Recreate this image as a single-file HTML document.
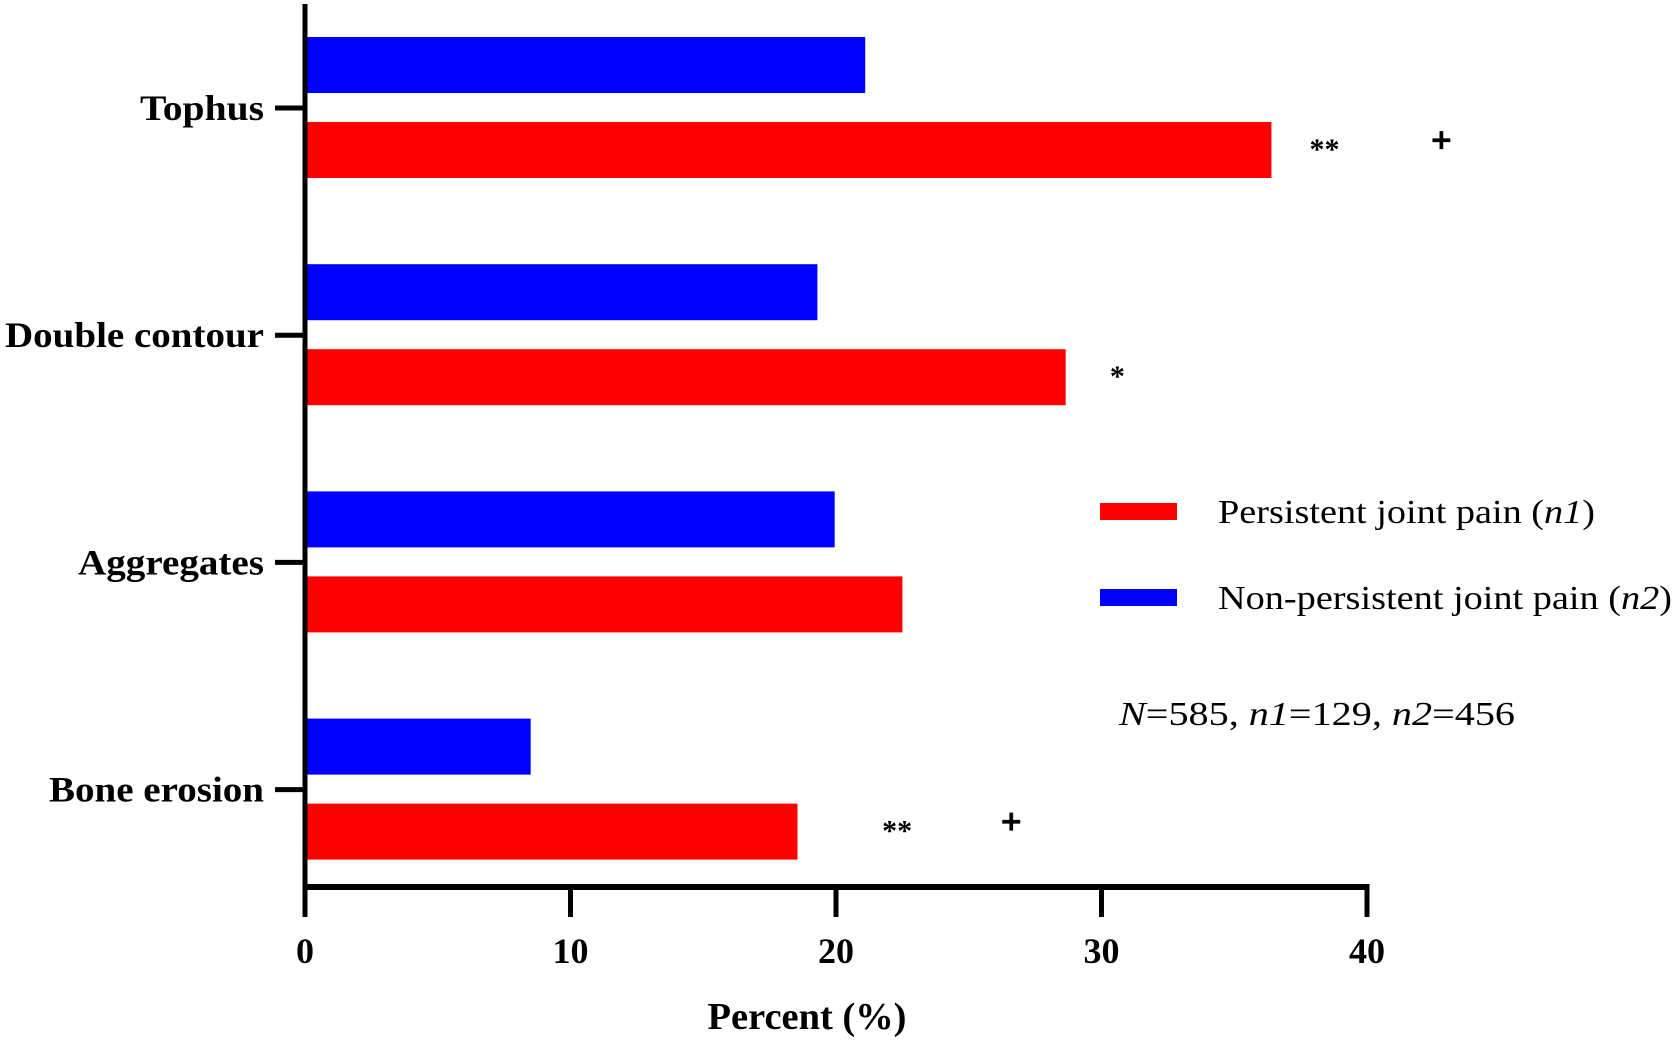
<!DOCTYPE html>
<html><head><meta charset="utf-8"><style>
html,body{margin:0;padding:0;background:#fff;}
svg{display:block;font-family:"Liberation Serif",serif;}
</style></head><body>
<svg id="chart" width="1675" height="1041" viewBox="0 0 1675 1041"></svg>
<script>
const categories = ["Tophus", "Double contour", "Aggregates", "Bone erosion"];
const persistentValues = [36.4, 28.65, 22.5, 18.55];
const nonPersistentValues = [21.1, 19.3, 19.95, 8.5];
const xTicks = [0, 10, 20, 30, 40];
const catLabelWidths = [124, 259, 186, 215];
const annotations = [
  {cat: 0, text: "**", value: 38.4},
  {cat: 0, text: "+", value: 42.8},
  {cat: 1, text: "*", value: 30.6},
  {cat: 3, text: "**", value: 22.3},
  {cat: 3, text: "+", value: 26.6}
];

const NS = "http://www.w3.org/2000/svg";
const svg = document.getElementById("chart");
const x0 = 305, x1 = 1367, xMax = 40;
const xs = v => x0 + (v / xMax) * (x1 - x0);
const catY = i => 108 + i * 227.2;
function mk(tag, attrs, parent) {
  const e = document.createElementNS(NS, tag);
  for (const k in attrs) e.setAttribute(k, attrs[k]);
  (parent || svg).appendChild(e);
  return e;
}

categories.forEach((c, i) => {
  const cy = catY(i);
  const b = mk("rect", {x: x0, y: cy - 71, width: xs(nonPersistentValues[i]) - x0, height: 56, fill: "#0000ff"});
  
  
  const r = mk("rect", {x: x0, y: cy + 14, width: xs(persistentValues[i]) - x0, height: 56, fill: "#ff0000"});
  
  
  const t = mk("line", {x1: 275, x2: 305, y1: cy, y2: cy, stroke: "#000", "stroke-width": 5});
  
  
  const l = mk("text", {x: 264, y: cy + 12, "text-anchor": "end", "font-size": 36, "font-weight": "bold", textLength: catLabelWidths[i], lengthAdjust: "spacingAndGlyphs"});
  l.textContent = c;
  
  
});

const ya = mk("line", {x1: 305, x2: 305, y1: 4, y2: 890, stroke: "#000", "stroke-width": 5});


const xa = mk("line", {x1: 303, x2: 1369.5, y1: 887, y2: 887, stroke: "#000", "stroke-width": 6});


xTicks.forEach(v => {
  const t = mk("line", {x1: xs(v), x2: xs(v), y1: 887, y2: 917, stroke: "#000", "stroke-width": 5});
  
  
  const l = mk("text", {x: xs(v), y: 963, "text-anchor": "middle", "font-size": 36, "font-weight": "bold"});
  l.textContent = v;
  
  
});
const xt = mk("text", {x: 807, y: 1029, "text-anchor": "middle", "font-size": 38, "font-weight": "bold", textLength: 199, lengthAdjust: "spacingAndGlyphs"});
xt.textContent = "Percent (%)";



annotations.forEach(a => {
  const plus = a.text === "+";
  const y = catY(a.cat) + (plus ? 44 : 51);
  const t = mk("text", {x: xs(a.value), y: y, "text-anchor": "middle", "font-size": plus ? 36 : 30, "font-weight": "bold", stroke: plus ? "#000" : "none", "stroke-width": plus ? 1.2 : 0});
  t.textContent = a.text;
  
  
});

const lg = mk("g", {});


const r1 = mk("rect", {x: 1100, y: 503, width: 77, height: 17, fill: "#ff0000"}, lg);


const t1 = mk("text", {x: 1218, y: 523, "font-size": 34, textLength: 377, lengthAdjust: "spacingAndGlyphs"}, lg);
t1.innerHTML = 'Persistent joint pain (<tspan font-style="italic">n1</tspan>)';


const r2 = mk("rect", {x: 1100, y: 589, width: 77, height: 17, fill: "#0000ff"}, lg);


const t2 = mk("text", {x: 1218, y: 609, "font-size": 34, textLength: 454, lengthAdjust: "spacingAndGlyphs"}, lg);
t2.innerHTML = 'Non-persistent joint pain (<tspan font-style="italic">n2</tspan>)';


const t3 = mk("text", {x: 1119, y: 725, "font-size": 34, textLength: 396, lengthAdjust: "spacingAndGlyphs"});
t3.innerHTML = '<tspan font-style="italic">N</tspan>=585, <tspan font-style="italic">n1</tspan>=129, <tspan font-style="italic">n2</tspan>=456';


</script>
</body></html>
